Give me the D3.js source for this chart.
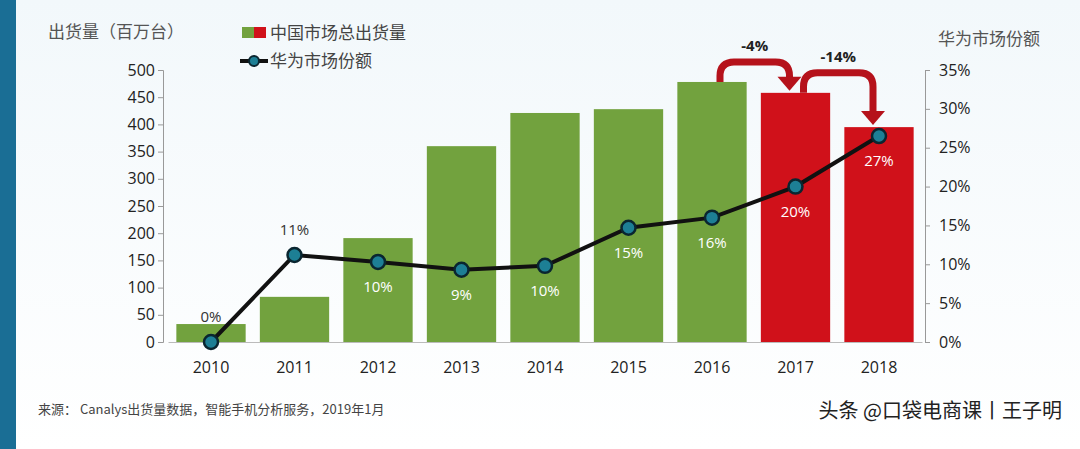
<!DOCTYPE html><html><head><meta charset="utf-8"><script src="https://cdn.jsdelivr.net/npm/d3@7"></script>
<style>body{margin:0;background:#fff}svg{font-family:"Noto Sans CJK SC","Open Sans",sans-serif}</style></head><body><svg id="c" width="1080" height="449"></svg><script>
const years=["2010","2011","2012","2013","2014","2015","2016","2017","2018"];
const shipments=[33,83,191,360,421,428,478,458,395];
const share=[0,11.2,10.3,9.3,9.8,14.7,16,20,26.5];
const shareLabels=["0%","11%","10%","9%","10%","15%","16%","20%","27%"];
const leftTicks=[0,50,100,150,200,250,300,350,400,450,500];
const rightTicks=[0,5,10,15,20,25,30,35];
const changes=[{from:6,to:7,label:"-4%"},{from:7,to:8,label:"-14%"}];
const svg=d3.select("#c");
const defs=svg.append("defs");
const g=defs.append("linearGradient").attr("id","bg").attr("x1",0).attr("x2",0).attr("y1",0).attr("y2",1);
g.append("stop").attr("offset",0).attr("stop-color","#f2f8fb");g.append("stop").attr("offset",1).attr("stop-color","#ffffff");
svg.append("rect").attr("width",1080).attr("height",449).attr("fill","url(#bg)");
svg.append("rect").attr("width",16).attr("height",449).attr("fill","#1a6e95");
const x=d3.scaleBand().domain(years).range([168,922]).paddingInner(0.17).paddingOuter(0.1);
const y=d3.scaleLinear().domain([0,500]).range([342,70]);
const y2=d3.scaleLinear().domain([0,35]).range([342,70]);
svg.selectAll(".bar").data(years).join("rect").attr("x",d=>x(d)).attr("width",x.bandwidth())
 .attr("y",(d,i)=>y(shipments[i])).attr("height",(d,i)=>342-y(shipments[i])).attr("fill",(d,i)=>i>=7?"#d0111a":"#72a23e");
const la=svg.append("g").attr("transform","translate(163,0)").call(d3.axisLeft(y).tickValues(leftTicks).tickSize(5));
la.selectAll("text").attr("font-size",16).attr("fill","#222").attr("font-family","Open Sans");
const ra=svg.append("g").attr("transform","translate(925,0)").call(d3.axisRight(y2).tickValues(rightTicks).tickFormat(d=>d+"%").tickSize(5));
ra.selectAll("text").attr("font-size",16).attr("fill","#222").attr("dx",6).attr("font-family","Open Sans");
[la,ra].forEach(a=>{a.selectAll("path,line").attr("stroke","#999")});
const xa=svg.append("g").attr("transform","translate(0,342)").call(d3.axisBottom(x).tickSize(0));
xa.select("path").attr("stroke","#bbb");xa.selectAll("text").attr("font-size",16).attr("dy",28).attr("fill","#222").attr("font-family","Open Sans");
const cx=(d)=>x(d)+x.bandwidth()/2;
svg.append("path").datum(years).attr("d",d3.line().x(cx).y((d,i)=>y2(share[i]))).attr("fill","none").attr("stroke","#111").attr("stroke-width",4);
svg.selectAll(".pt").data(years).join("circle").attr("cx",cx).attr("cy",(d,i)=>y2(share[i])).attr("r",7).attr("fill","#1d7f95").attr("stroke","#0a2630").attr("stroke-width",2.5);
svg.selectAll(".sl").data(years).join("text").attr("x",cx).attr("y",(d,i)=>i<2?y2(share[i])-20:y2(share[i])+30)
 .attr("text-anchor","middle").attr("font-size",15).attr("font-family","Open Sans").attr("fill",(d,i)=>i<2?"#333":"#fff").text((d,i)=>shareLabels[i]);
changes.forEach(c=>{const x0=cx(years[c.from])+8,x1=cx(years[c.to])-6;const t0=y(shipments[c.from]),t1=y(shipments[c.to]);const top=Math.min(t0,t1)-20;
 svg.append("path").attr("d",`M${x0} ${t0} L${x0} ${top+14} Q${x0} ${top} ${x0+14} ${top} L${x1-14} ${top} Q${x1} ${top} ${x1} ${top+14} L${x1} ${t1-14}`).attr("fill","none").attr("stroke","#b5121b").attr("stroke-width",7);
 svg.append("path").attr("d",`M${x1-12} ${t1-16} L${x1+12} ${t1-16} L${x1} ${t1-2}Z`).attr("fill","#b5121b");
 svg.append("text").attr("x",(x0+x1)/2).attr("y",top-11).attr("text-anchor","middle").attr("font-size",15).attr("font-weight","bold").attr("font-family","Open Sans").attr("fill","#222").text(c.label);});
svg.append("text").attr("x",48).attr("y",38).attr("font-size",17).attr("fill","#555").text("出货量（百万台）");
svg.append("text").attr("x",1040).attr("y",45).attr("text-anchor","end").attr("font-size",17).attr("fill","#555").text("华为市场份额");
svg.append("rect").attr("x",242).attr("y",27).attr("width",12).attr("height",11).attr("fill","#72a23e");
svg.append("rect").attr("x",254).attr("y",27).attr("width",12).attr("height",11).attr("fill","#d0111a");
svg.append("text").attr("x",270).attr("y",39).attr("font-size",17).attr("fill","#444").text("中国市场总出货量");
svg.append("line").attr("x1",240).attr("x2",268).attr("y1",61).attr("y2",61).attr("stroke","#111").attr("stroke-width",4);
svg.append("circle").attr("cx",254).attr("cy",61).attr("r",5).attr("fill","#1d7f95").attr("stroke","#0a2630").attr("stroke-width",2);
svg.append("text").attr("x",270).attr("y",67).attr("font-size",17).attr("fill","#444").text("华为市场份额");
svg.append("text").attr("x",38).attr("y",414).attr("font-size",13).attr("fill","#444").text("来源：  Canalys出货量数据，智能手机分析服务，2019年1月");
svg.append("text").attr("x",1062).attr("y",418).attr("text-anchor","end").attr("font-size",20).attr("fill","#222").text("头条 @口袋电商课丨王子明");
</script></body></html>
